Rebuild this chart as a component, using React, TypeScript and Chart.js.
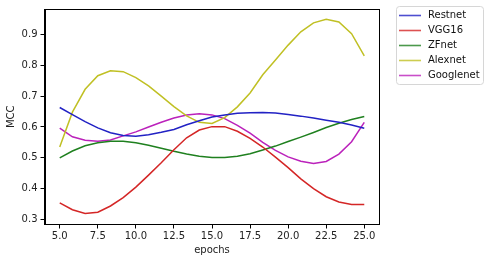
import React, { useEffect, useRef } from "react";
import { Chart, registerables } from "chart.js";

Chart.register(...registerables);

const epochs = [5, 5.833, 6.667, 7.5, 8.333, 9.167, 10, 10.833, 11.667, 12.5, 13.333, 14.167, 15, 15.833, 16.667, 17.5, 18.333, 19.167, 20, 20.833, 21.667, 22.5, 23.333, 24.167, 25];

const restnet = [0.663, 0.640, 0.617, 0.597, 0.581, 0.572, 0.570, 0.575, 0.583, 0.592, 0.607, 0.620, 0.632, 0.639, 0.644, 0.646, 0.647, 0.645, 0.640, 0.635, 0.629, 0.622, 0.615, 0.606, 0.596];
const vgg16 = [0.354, 0.332, 0.320, 0.324, 0.344, 0.371, 0.405, 0.444, 0.484, 0.526, 0.565, 0.590, 0.601, 0.601, 0.586, 0.563, 0.535, 0.502, 0.468, 0.432, 0.400, 0.374, 0.357, 0.349, 0.349];
const zfnet = [0.500, 0.522, 0.539, 0.549, 0.554, 0.554, 0.549, 0.541, 0.531, 0.521, 0.512, 0.505, 0.501, 0.501, 0.505, 0.513, 0.525, 0.538, 0.553, 0.567, 0.582, 0.598, 0.612, 0.624, 0.634];
const alexnet = [0.535, 0.648, 0.722, 0.766, 0.782, 0.779, 0.760, 0.733, 0.700, 0.666, 0.636, 0.615, 0.611, 0.630, 0.665, 0.710, 0.769, 0.817, 0.865, 0.908, 0.937, 0.949, 0.940, 0.902, 0.830];
const googlenet = [0.596, 0.568, 0.557, 0.554, 0.558, 0.571, 0.584, 0.600, 0.615, 0.629, 0.639, 0.643, 0.639, 0.627, 0.605, 0.580, 0.550, 0.524, 0.503, 0.489, 0.482, 0.488, 0.512, 0.552, 0.615];

const seriesNames = ["Restnet", "VGG16", "ZFnet", "Alexnet", "Googlenet"];
const seriesValues = [restnet, vgg16, zfnet, alexnet, googlenet];
const seriesColors = ["#2222c4", "#d42626", "#1f801f", "#c0c024", "#bb22bb"];

const xTicks = [5, 7.5, 10, 12.5, 15, 17.5, 20, 22.5, 25];
const yTicks = [0.3, 0.4, 0.5, 0.6, 0.7, 0.8, 0.9];

const FONT = "'DejaVu Sans', sans-serif";

const framePlugin = {
  id: "frame",
  afterDatasetsDraw(chart: any) {
    const { ctx, chartArea } = chart;
    ctx.save();
    ctx.strokeStyle = "#000";
    ctx.lineWidth = 1;
    ctx.strokeRect(
      Math.round(chartArea.left) + 0.5,
      Math.round(chartArea.top) + 0.5,
      Math.round(chartArea.right - chartArea.left) - 1,
      Math.round(chartArea.bottom - chartArea.top) - 1
    );
    ctx.restore();
  },
};

const legendPlugin = {
  id: "mplLegend",
  afterDraw(chart: any) {
    const { ctx } = chart;
    const x0 = 396.5, y0 = 6.5, w = 87, h = 78, r = 3;
    ctx.save();
    ctx.fillStyle = "rgba(255,255,255,0.8)";
    ctx.strokeStyle = "#d6d6d6";
    ctx.lineWidth = 1;
    ctx.beginPath();
    ctx.moveTo(x0 + r, y0);
    ctx.lineTo(x0 + w - r, y0);
    ctx.arcTo(x0 + w, y0, x0 + w, y0 + r, r);
    ctx.lineTo(x0 + w, y0 + h - r);
    ctx.arcTo(x0 + w, y0 + h, x0 + w - r, y0 + h, r);
    ctx.lineTo(x0 + r, y0 + h);
    ctx.arcTo(x0, y0 + h, x0, y0 + h - r, r);
    ctx.lineTo(x0, y0 + r);
    ctx.arcTo(x0, y0, x0 + r, y0, r);
    ctx.closePath();
    ctx.fill();
    ctx.stroke();
    ctx.font = `10px ${FONT}`;
    ctx.textBaseline = "middle";
    ctx.textAlign = "left";
    chart.data.datasets.forEach((ds: any, i: number) => {
      const yy = 15.5 + i * 15;
      ctx.strokeStyle = ds.borderColor;
      ctx.globalAlpha = 0.8;
      ctx.lineWidth = 1.6;
      ctx.beginPath();
      ctx.moveTo(399, yy);
      ctx.lineTo(421, yy);
      ctx.stroke();
      ctx.globalAlpha = 1;
      ctx.fillStyle = "#111";
      ctx.fillText(ds.label, 428, yy);
    });
    ctx.restore();
  },
};

export default function App() {
  const ref = useRef<HTMLCanvasElement>(null);
  useEffect(() => {
    document.body.style.margin = "0";
    const canvas = ref.current!;
    const chart = new Chart(canvas, {
      type: "line",
      data: {
        datasets: seriesNames.map((name, s) => ({
          label: name,
          data: epochs.map((e, i) => ({ x: e, y: seriesValues[s][i] })),
          borderColor: seriesColors[s],
          backgroundColor: seriesColors[s],
          borderWidth: 1.5,
          pointRadius: 0,
          tension: 0,
          fill: false,
        })),
      },
      options: {
        animation: false,
        responsive: false,
        maintainAspectRatio: false,
        layout: { padding: { left: 0, right: 490 - 379.5, top: 6, bottom: 0 } },
        plugins: { legend: { display: false }, tooltip: { enabled: false } },
        scales: {
          x: {
            type: "linear",
            min: 4,
            max: 26,
            afterBuildTicks: (scale: any) => {
              scale.ticks = xTicks.map((v) => ({ value: v }));
            },
            afterFit: (scale: any) => {
              scale.height = 262 - 224.5;
            },
            ticks: {
              autoSkip: false,
              maxRotation: 0,
              padding: 2,
              color: "#222",
              font: { family: FONT, size: 10 },
              callback: (v: any) => Number(v).toFixed(1),
            },
            grid: { drawOnChartArea: false, drawTicks: true, tickLength: 4, color: "#000", tickColor: "#000" },
            border: { display: true, color: "#000" },
            title: {
              display: true,
              text: "epochs",
              color: "#222",
              font: { family: FONT, size: 10 },
              padding: { top: 0, bottom: 6 },
            },
          },
          y: {
            type: "linear",
            min: 0.284,
            max: 0.982,
            afterBuildTicks: (scale: any) => {
              scale.ticks = yTicks.map((v) => ({ value: v }));
            },
            afterFit: (scale: any) => {
              scale.width = 44.5;
            },
            ticks: {
              padding: 3,
              color: "#222",
              font: { family: FONT, size: 10 },
              callback: (v: any) => Number(v).toFixed(1),
            },
            grid: { drawOnChartArea: false, drawTicks: true, tickLength: 4, color: "#000", tickColor: "#000" },
            border: { display: true, color: "#000" },
            title: {
              display: true,
              text: "MCC",
              color: "#222",
              font: { family: FONT, size: 10 },
              padding: { top: 5, bottom: 0 },
            },
          },
        },
      },
      plugins: [framePlugin, legendPlugin],
    } as any);
    return () => chart.destroy();
  }, []);
  return (
    <div style={{ position: "fixed", left: 0, top: 0, width: 490, height: 262, background: "#fff" }}>
      <canvas ref={ref} width={490} height={262} style={{ width: 490, height: 262, display: "block" }} />
    </div>
  );
}
